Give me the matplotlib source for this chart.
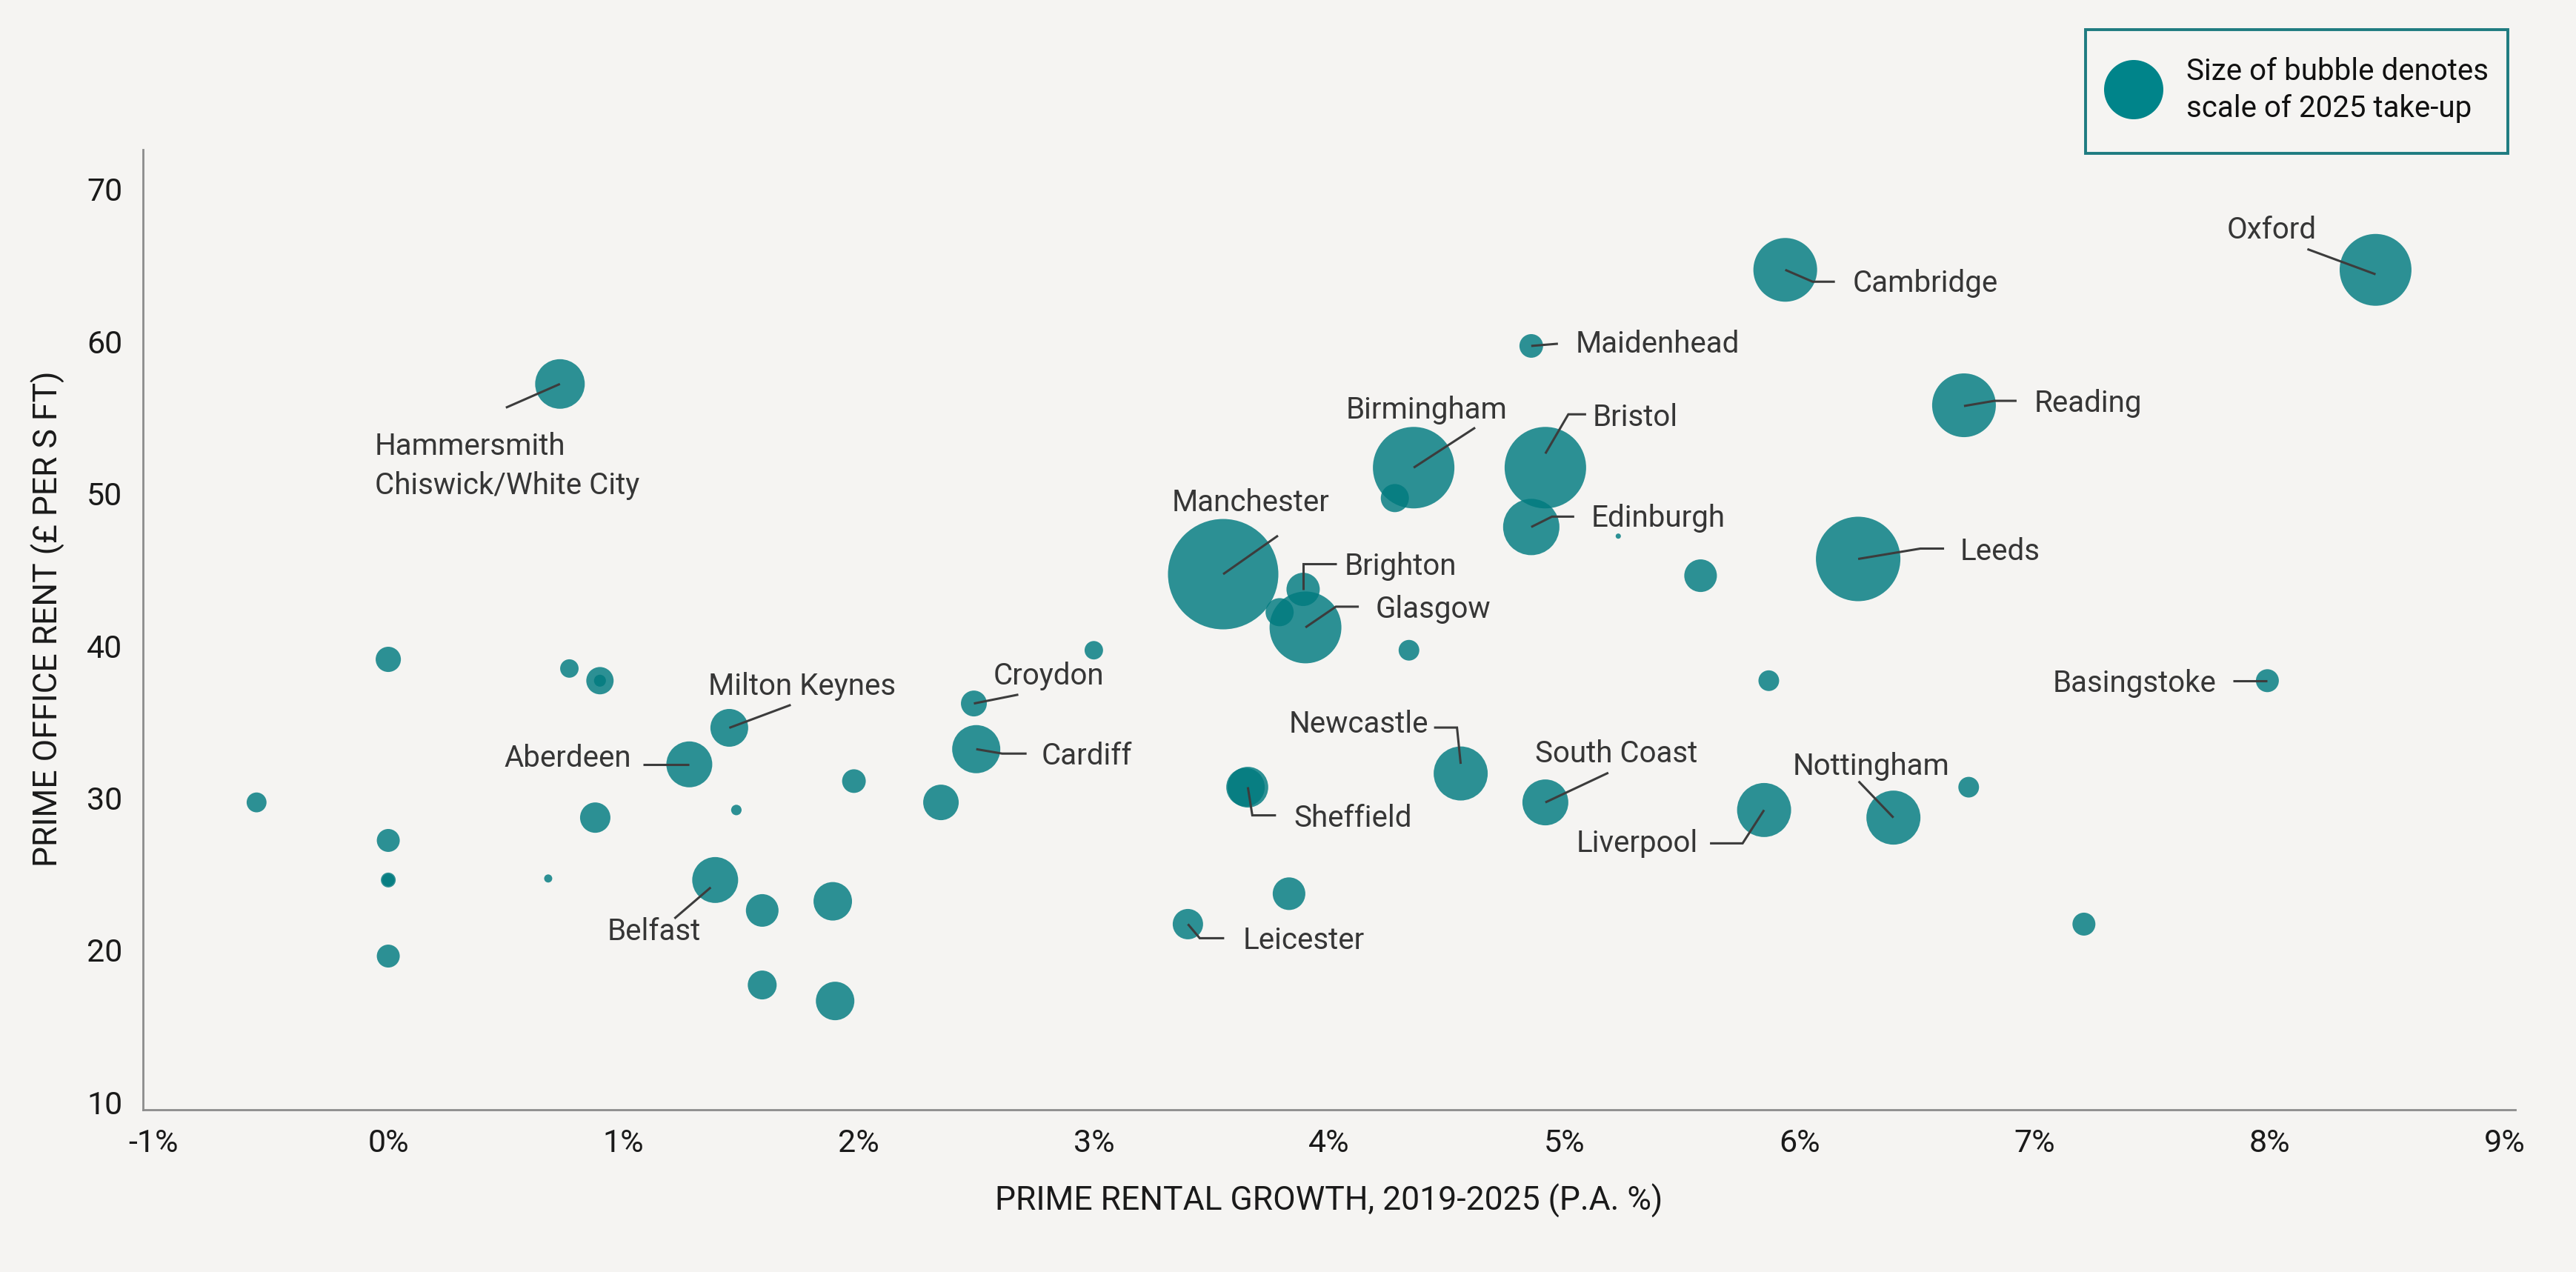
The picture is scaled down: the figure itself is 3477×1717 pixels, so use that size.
import matplotlib
matplotlib.use("Agg")
import matplotlib.pyplot as plt
from matplotlib.transforms import ScaledTranslation
from matplotlib.patches import Rectangle, Circle

# ---------------- data ----------------
cities = ["Hammersmith\nChiswick/White City", "", "", "", "", "Milton Keynes", "Aberdeen", "",
          "", "", "", "", "", "", "", "Belfast", "", "", "", "", "", "",
          "Maidenhead", "Birmingham", "", "Bristol", "Edinburgh", "", "", "Manchester",
          "Brighton", "", "Glasgow", "", "", "Croydon", "Cardiff", "Sheffield", "",
          "Newcastle", "South Coast", "Liverpool", "Leicester", "", "Cambridge", "Oxford",
          "Reading", "Leeds", "", "Basingstoke", "Nottingham", "", ""]
growth = [0.73, 0.0, 0.77, 0.9, 0.9, 1.45, 1.28, 1.98,
          2.35, -0.56, 0.88, 1.48, 0.0, 0.0, 0.0, 1.39, 0.68, 1.59, 1.89, 0.0, 1.59, 1.9,
          4.86, 4.36, 4.28, 4.92, 4.86, 5.23, 5.58, 3.55,
          3.89, 3.79, 3.9, 4.34, 3.0, 2.49, 2.5, 3.655, 3.645,
          4.56, 4.92, 5.85, 3.4, 3.83, 5.94, 8.45,
          6.7, 6.25, 5.87, 7.99, 6.4, 6.72, 7.21]
rent = [57.2, 39.1, 38.5, 37.7, 37.7, 34.6, 32.2, 31.1,
        29.7, 29.7, 28.7, 29.2, 27.2, 24.6, 24.6, 24.6, 24.7, 22.6, 23.2, 19.6, 17.7, 16.65,
        59.7, 51.7, 49.7, 51.7, 47.8, 47.2, 44.6, 44.7,
        43.7, 42.2, 41.2, 39.7, 39.7, 36.2, 33.2, 30.7, 30.7,
        31.6, 29.7, 29.2, 21.7, 23.7, 64.7, 64.7,
        55.8, 45.7, 37.7, 37.7, 28.7, 30.7, 21.7]
takeup = [224, 58, 31, 68, 13, 130, 192, 51,
          115, 36, 84, 10, 48, 20, 14, 192, 6, 97, 135, 48, 76, 135,
          51, 605, 72, 605, 289, 2.5, 97, 1110,
          101, 72, 470, 39, 31, 61, 211, 151, 135,
          266, 192, 266, 84, 97, 370, 470,
          370, 650, 39, 48, 266, 39, 48]

x_ticks = [-1, 0, 1, 2, 3, 4, 5, 6, 7, 8, 9]
x_tick_labels = ["-1%", "0%", "1%", "2%", "3%", "4%", "5%", "6%", "7%", "8%", "9%"]
y_ticks = [10, 20, 30, 40, 50, 60, 70]

# label layout: text offset (px @200dpi, y down), alignment, leader-line vertices (px offsets)
label_layout = {
    "Hammersmith\nChiswick/White City": ((-250, 111), "left", [(0, 0), (-73, 32)]),
    "Milton Keynes": ((98, -56), "center", [(0, 0), (83, -31)]),
    "Aberdeen": ((-78, -8), "right", [(0, 0), (-62, 0)]),
    "Belfast": ((-83, 70), "center", [(-6, 10), (-55, 52)]),
    "Croydon": ((26, -37), "left", [(0, 0), (60, -12)]),
    "Cardiff": ((88, 9), "left", [(0, 0), (35, 6), (68, 6)]),
    "Manchester": ((37, -97), "center", [(0, 0), (74, -52)]),
    "Brighton": ((56, -31), "left", [(0, 0), (0, -35), (45, -35)]),
    "Glasgow": ((95, -24), "left", [(0, 0), (41, -28), (72, -28)]),
    "Birmingham": ((17, -78), "center", [(0, 0), (83, -54)]),
    "Bristol": ((64, -68), "left", [(0, -19), (31, -72), (55, -72)]),
    "Edinburgh": ((81, -12), "left", [(0, 0), (28, -14), (58, -14)]),
    "Maidenhead": ((60, -2), "left", [(0, 0), (36, -3)]),
    "Newcastle": ((-43, -67), "right", [(0, -13), (-5, -62), (-36, -62)]),
    "Sheffield": ((62, 42), "left", [(0, 0), (6, 38), (38, 38)]),
    "South Coast": ((96, -66), "center", [(0, 0), (85, -40)]),
    "Liverpool": ((-89, 45), "right", [(0, 0), (-29, 45), (-73, 45)]),
    "Leicester": ((74, 22), "left", [(0, 0), (16, 19), (49, 19)]),
    "Cambridge": ((91, 18), "left", [(0, 0), (37, 16), (67, 16)]),
    "Oxford": ((-140, -54), "center", [(0, 6), (-92, -28)]),
    "Reading": ((95, -3), "left", [(0, 1), (41, -6), (71, -6)]),
    "Leeds": ((138, -10), "left", [(0, 0), (84, -14), (116, -14)]),
    "Basingstoke": ((-69, 4), "right", [(0, 0), (-46, 0)]),
    "Nottingham": ((-30, -69), "center", [(0, 0), (-47, -49)]),
}

# ---------------- style ----------------
BG = "#F5F4F2"
BUBBLE = "#007A7F"
TXT = "#363636"
LINE = "#3c3c3c"
FONT = ["Roboto", "DejaVu Sans"]
plt.rcParams["font.family"] = FONT

DPI = 200
W, H = 3477, 1717
fig = plt.figure(figsize=(W / DPI, H / DPI), dpi=DPI, facecolor=BG)
L, R, T, B = 193, 3395, 202, 1498
ax = fig.add_axes([L / W, 1 - B / H, (R - L) / W, (B - T) / H])
ax.set_facecolor(BG)

ax.set_xlim(-1.043, 9.044)
ax.set_ylim(9.5, 72.6)

SIZE_K = 2.592  # takeup -> marker area (pt^2)
ax.scatter(growth, rent, s=[t * SIZE_K for t in takeup], color=BUBBLE, alpha=0.82,
           linewidths=0, zorder=3)

for s in ["top", "right"]:
    ax.spines[s].set_visible(False)
for s in ["left", "bottom"]:
    ax.spines[s].set_color("#8c8c8c")
    ax.spines[s].set_linewidth(1.0)

ax.set_xticks(x_ticks)
ax.set_xticklabels(x_tick_labels)
ax.set_yticks(y_ticks)
ax.tick_params(axis="both", length=0, labelsize=15.5, colors="#1a1a1a")
ax.tick_params(axis="x", pad=9)
ax.tick_params(axis="y", pad=10)

fig.text(1794 / W, 1 - 1621 / H, "PRIME RENTAL GROWTH, 2019-2025 (P.A. %)",
         ha="center", va="center", fontsize=16, color="#1a1a1a")
fig.text(65 / W, 1 - 835 / H, "PRIME OFFICE RENT (£ PER S FT)", rotation=90,
         ha="center", va="center", fontsize=16, color="#1a1a1a")

# labels
for name, gx, ry in zip(cities, growth, rent):
    if not name:
        continue
    (tdx, tdy), ha, verts = label_layout[name]
    base = ScaledTranslation(gx, ry, ax.transData)
    tr = fig.dpi_scale_trans + base
    xs = [v[0] / DPI for v in verts]
    ys = [-v[1] / DPI for v in verts]
    ax.plot(xs, ys, transform=tr, color=LINE, lw=1.1, zorder=4, solid_capstyle="butt",
            solid_joinstyle="miter", clip_on=False)
    ax.text(tdx / DPI, -tdy / DPI, name, transform=tr, ha=ha, va="center",
            fontsize=14.5, color=TXT, zorder=5, linespacing=1.45)

# legend box
fig.patches.append(Rectangle((2815 / W, 1 - 207 / H), (3385 - 2815) / W, (207 - 40) / H,
                             transform=fig.transFigure, facecolor="none",
                             edgecolor="#1E7B80", linewidth=1.4))
leg_ax = fig.add_axes([2840 / W, 1 - 161 / H, 80 / W, 80 / H])
leg_ax.set_xlim(-1, 1)
leg_ax.set_ylim(-1, 1)
leg_ax.set_aspect("equal")
leg_ax.axis("off")
leg_ax.add_patch(Circle((0, 0), 1.0, color="#00848A", lw=0))
fig.text(2951 / W, 1 - 97 / H, "Size of bubble denotes", ha="left", va="center",
         fontsize=14.5, color="#111111")
fig.text(2951 / W, 1 - 147 / H, "scale of 2025 take-up", ha="left", va="center",
         fontsize=14.5, color="#111111")

fig.savefig("out.png", dpi=DPI, facecolor=BG)
